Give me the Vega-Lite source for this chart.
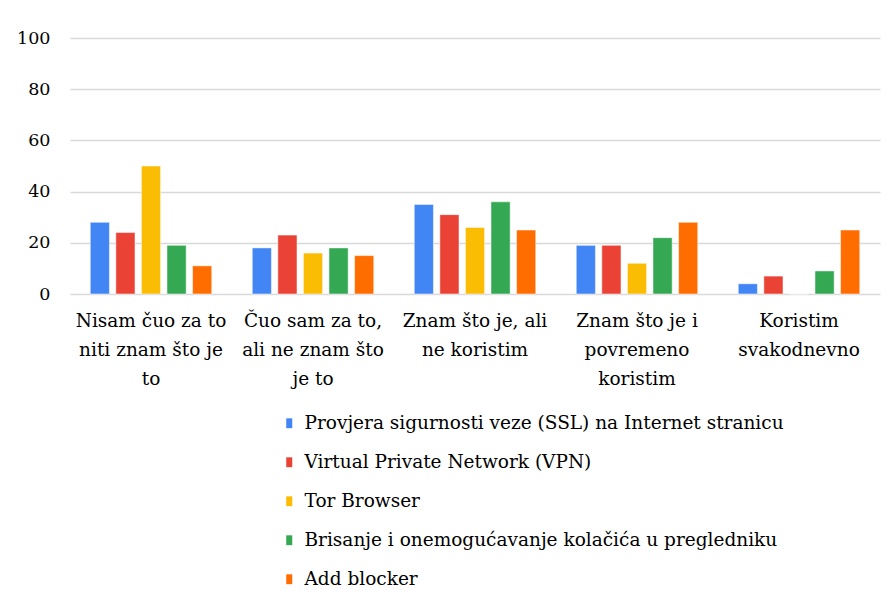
{
  "$schema": "https://vega.github.io/schema/vega-lite/v6.json",
  "width": 810,
  "height": 256,
  "autosize": "none",
  "padding": {"left": 70, "top": 38, "right": 8, "bottom": 306},
  "background": "white",
  "config": {
    "view": {"stroke": null},
    "font": "DejaVu Serif"
  },
  "data": {
    "values": [
      {"cat": "Nisam čuo za to niti znam što je to", "series": "Provjera sigurnosti veze (SSL) na Internet stranicu", "value": 28},
      {"cat": "Nisam čuo za to niti znam što je to", "series": "Virtual Private Network (VPN)", "value": 24},
      {"cat": "Nisam čuo za to niti znam što je to", "series": "Tor Browser", "value": 50},
      {"cat": "Nisam čuo za to niti znam što je to", "series": "Brisanje i onemogućavanje kolačića u pregledniku", "value": 19},
      {"cat": "Nisam čuo za to niti znam što je to", "series": "Add blocker", "value": 11},
      {"cat": "Čuo sam za to, ali ne znam što je to", "series": "Provjera sigurnosti veze (SSL) na Internet stranicu", "value": 18},
      {"cat": "Čuo sam za to, ali ne znam što je to", "series": "Virtual Private Network (VPN)", "value": 23},
      {"cat": "Čuo sam za to, ali ne znam što je to", "series": "Tor Browser", "value": 16},
      {"cat": "Čuo sam za to, ali ne znam što je to", "series": "Brisanje i onemogućavanje kolačića u pregledniku", "value": 18},
      {"cat": "Čuo sam za to, ali ne znam što je to", "series": "Add blocker", "value": 15},
      {"cat": "Znam što je, ali ne koristim", "series": "Provjera sigurnosti veze (SSL) na Internet stranicu", "value": 35},
      {"cat": "Znam što je, ali ne koristim", "series": "Virtual Private Network (VPN)", "value": 31},
      {"cat": "Znam što je, ali ne koristim", "series": "Tor Browser", "value": 26},
      {"cat": "Znam što je, ali ne koristim", "series": "Brisanje i onemogućavanje kolačića u pregledniku", "value": 36},
      {"cat": "Znam što je, ali ne koristim", "series": "Add blocker", "value": 25},
      {"cat": "Znam što je i povremeno koristim", "series": "Provjera sigurnosti veze (SSL) na Internet stranicu", "value": 19},
      {"cat": "Znam što je i povremeno koristim", "series": "Virtual Private Network (VPN)", "value": 19},
      {"cat": "Znam što je i povremeno koristim", "series": "Tor Browser", "value": 12},
      {"cat": "Znam što je i povremeno koristim", "series": "Brisanje i onemogućavanje kolačića u pregledniku", "value": 22},
      {"cat": "Znam što je i povremeno koristim", "series": "Add blocker", "value": 28},
      {"cat": "Koristim svakodnevno", "series": "Provjera sigurnosti veze (SSL) na Internet stranicu", "value": 4},
      {"cat": "Koristim svakodnevno", "series": "Virtual Private Network (VPN)", "value": 7},
      {"cat": "Koristim svakodnevno", "series": "Tor Browser", "value": 0},
      {"cat": "Koristim svakodnevno", "series": "Brisanje i onemogućavanje kolačića u pregledniku", "value": 9},
      {"cat": "Koristim svakodnevno", "series": "Add blocker", "value": 25}
    ]
  },
  "mark": {"type": "bar", "stroke": "white", "strokeOpacity": 0.5, "strokeWidth": 1},
  "encoding": {
    "x": {
      "field": "cat",
      "type": "nominal",
      "sort": null,
      "scale": {"paddingInner": 0.25, "paddingOuter": 0.125},
      "axis": {
        "title": null,
        "labelAngle": 0,
        "domain": false,
        "ticks": false,
        "labelFont": "DejaVu Serif",
        "labelFontSize": 18.5,
        "labelColor": "black",
        "labelBaseline": "top",
        "labelPadding": 17,
        "labelLineHeight": 29,
        "labelLimit": 0,
        "labelExpr": "datum.value == 'Nisam čuo za to niti znam što je to' ? ['Nisam čuo za to', 'niti znam što je', 'to'] : datum.value == 'Čuo sam za to, ali ne znam što je to' ? ['Čuo sam za to,', 'ali ne znam što', 'je to'] : datum.value == 'Znam što je, ali ne koristim' ? ['Znam što je, ali', 'ne koristim'] : datum.value == 'Znam što je i povremeno koristim' ? ['Znam što je i', 'povremeno', 'koristim'] : ['Koristim', 'svakodnevno']"
      }
    },
    "xOffset": {
      "field": "series",
      "type": "nominal",
      "sort": null,
      "scale": {"paddingInner": 0.25, "paddingOuter": 0}
    },
    "y": {
      "field": "value",
      "type": "quantitative",
      "scale": {"domain": [0, 100]},
      "axis": {
        "title": null,
        "values": [0, 20, 40, 60, 80, 100],
        "domain": false,
        "ticks": false,
        "grid": true,
        "gridColor": "#d9d9d9",
        "gridWidth": 1.3,
        "labelFont": "DejaVu Serif",
        "labelFontSize": 17.5,
        "labelColor": "black",
        "labelPadding": 20
      }
    },
    "color": {
      "field": "series",
      "type": "nominal",
      "sort": null,
      "scale": {
        "domain": [
          "Provjera sigurnosti veze (SSL) na Internet stranicu",
          "Virtual Private Network (VPN)",
          "Tor Browser",
          "Brisanje i onemogućavanje kolačića u pregledniku",
          "Add blocker"
        ],
        "range": ["#4285F4", "#EA4335", "#FBBC04", "#34A853", "#FF6D01"]
      },
      "legend": {
        "title": null,
        "orient": "none",
        "legendX": 210,
        "legendY": 376,
        "direction": "vertical",
        "symbolType": "M-0.55,-0.9H0.55V0.9H-0.55Z",
        "symbolSize": 120,
        "symbolStrokeWidth": 0,
        "labelFont": "DejaVu Serif",
        "labelFontSize": 18.5,
        "labelColor": "black",
        "labelLimit": 0,
        "labelOffset": 6,
        "rowPadding": 20
      }
    }
  }
}
